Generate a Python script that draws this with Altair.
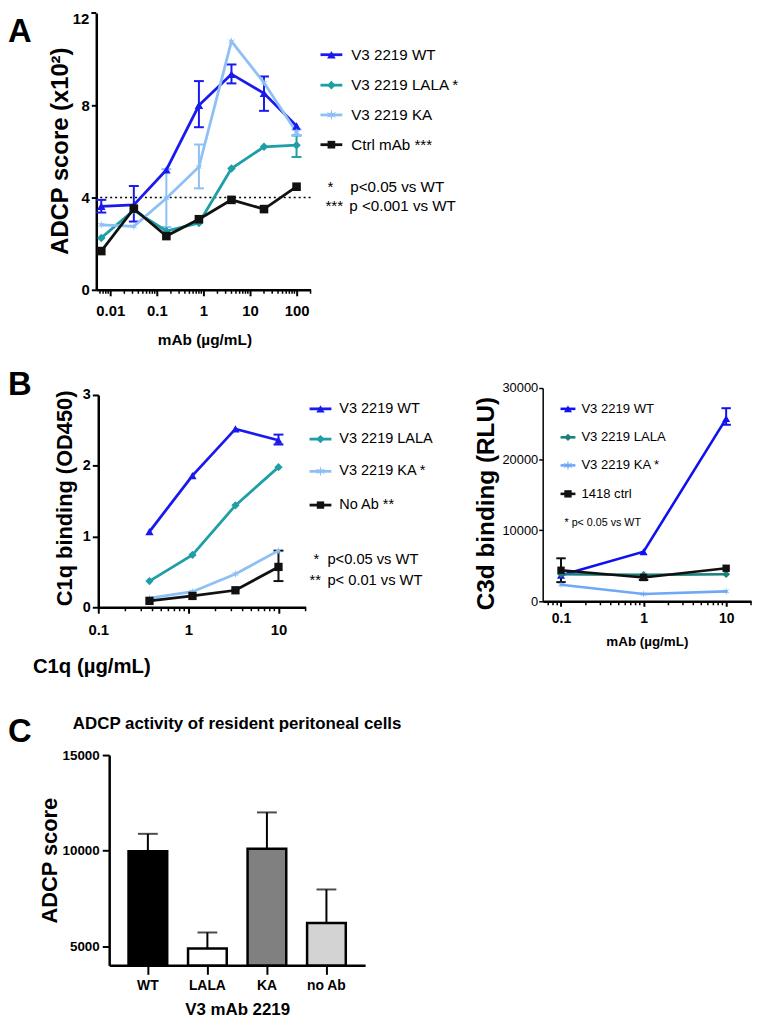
import math
import altair as alt
import pandas as pd

FONT = "Liberation Sans, Arial, sans-serif"

# ---------------- Panel A data ----------------
a_conc = [0.0064, 0.032, 0.16, 0.8, 4, 20, 100]
a_series = ["WT", "LALA", "KA", "Ctrl"]
a_labels = ["V3 2219 WT", "V3 2219 LALA *", "V3 2219 KA", "Ctrl mAb ***"]
a_wt = [3.62, 3.68, 5.2, 8.0, 9.35, 8.52, 7.1]
a_wt_lo = [3.35, 2.96, None, 7.05, 8.95, 7.76, None]
a_wt_hi = [3.9, 4.5, None, 9.05, 9.77, 9.25, None]
a_lala = [2.25, 3.45, 2.55, 2.9, 5.26, 6.2, 6.27]
a_lala_lo = [None, None, None, None, None, None, 5.76]
a_lala_hi = [None, None, None, None, None, None, 6.69]
a_ka = [2.82, 2.75, 3.97, 5.33, 10.77, 8.98, 6.83]
a_ka_lo = [None, None, 2.72, 4.4, None, None, 6.7]
a_ka_hi = [None, None, 5.23, 6.3, None, None, 6.95]
a_ctrl = [1.68, 3.52, 2.33, 3.06, 3.9, 3.5, 4.47]
a_ctrl_lo = [None] * 7
a_ctrl_hi = [None] * 7
a_threshold = [4.0]
a_xticks = [0.01, 0.1, 1, 10, 100]
a_yticks = [0, 4, 8]
a_ytop = [12]

# ---------------- Panel B (C1q) data ----------------
b1_conc = [0.37, 1.11, 3.33, 10]
b1_series = ["WT", "LALA", "KA", "NoAb"]
b1_labels = ["V3 2219 WT", "V3 2219 LALA", "V3 2219 KA *", "No Ab **"]
b1_wt = [1.07, 1.86, 2.52, 2.36]
b1_wt_lo = [None, None, None, 2.30]
b1_wt_hi = [None, None, None, 2.44]
b1_lala = [0.37, 0.74, 1.44, 1.98]
b1_ka = [0.13, 0.22, 0.47, 0.80]
b1_noab = [0.09, 0.16, 0.24, 0.57]
b1_noab_lo = [None, None, None, 0.37]
b1_noab_hi = [None, None, None, 0.80]
b1_none = [None] * 4
b1_xticks = [0.1, 1, 10]
b1_yticks = [0, 1, 2, 3]

# ---------------- Panel B (C3d) data ----------------
b2_conc = [0.1, 1, 10]
b2_series = ["WT", "LALA", "KA", "Ctrl"]
b2_labels = ["V3 2219 WT", "V3 2219 LALA", "V3 2219 KA *", "1418 ctrl"]
b2_wt = [3670, 6975, 25700]
b2_wt_lo = [None, None, 24830]
b2_wt_hi = [None, None, 27160]
b2_lala = [3810, 3720, 3810]
b2_ka = [2330, 1020, 1400]
b2_ctrl = [4370, 3350, 4650]
b2_ctrl_lo = [2700, 3000, None]
b2_ctrl_hi = [6050, 3650, None]
b2_none = [None] * 3
b2_xticks = [0.1, 1, 10]
b2_yticks = [0, 10000, 20000, 30000]

# ---------------- Panel C data ----------------
c_cats = ["WT", "LALA", "KA", "no Ab"]
c_vals = [9970, 4880, 10100, 6220]
c_err_hi = [10880, 5720, 12000, 7970]
c_fills = ["#000000", "#ffffff", "#808080", "#d3d3d3"]
c_yticks = [5000, 10000, 15000]


def long_df(conc, series, vals, los, his):
    rows, erows = [], []
    for s, v, lo, hi in zip(series, vals, los, his):
        for x, y, l, h in zip(conc, v, lo, hi):
            rows.append({"x": x, "series": s, "y": y})
            if l is not None and h is not None:
                erows.append({"x": x, "series": s, "lo": l, "hi": h})
    return pd.DataFrame(rows), pd.DataFrame(erows)


def minor_ticks(lo, hi):
    vals = []
    for e in range(-4, 4):
        for m in range(2, 10):
            v = m * 10 ** e
            if lo * 0.999 <= v <= hi * 1.001:
                vals.append(v)
    return pd.DataFrame({"x": vals})


def star_path(n=6, r_in=0.32):
    pts = []
    for i in range(2 * n):
        r = 1.0 if i % 2 == 0 else r_in
        ang = math.pi / 2 + i * math.pi / n
        pts.append((r * math.cos(ang), -r * math.sin(ang)))
    return "M" + "L".join(f"{x:.3f},{y:.3f}" for x, y in pts) + "Z"


STAR = star_path()
CAP = "M-1,0L1,0"
ONE = pd.DataFrame({"k": [0]})


def txt(s, x, y, fs, weight="normal", align="left", baseline="alphabetic"):
    return alt.Chart(ONE).mark_text(
        text=s, font=FONT, fontSize=fs, fontWeight=weight, align=align,
        baseline=baseline, color="black"
    ).encode(x=alt.value(x), y=alt.value(y))


def legend(labels, colors, shapes, sizes, x0, x1, xt, ys, fs, lw):
    out = []
    for lab, c, sh, sz, y in zip(labels, colors, shapes, sizes, ys):
        out.append(alt.Chart(ONE).mark_rule(color=c, strokeWidth=lw).encode(
            x=alt.value(x0), x2=alt.value(x1), y=alt.value(y)))
        out.append(alt.Chart(ONE).mark_point(shape=sh, filled=True, color=c, size=sz, opacity=1).encode(
            x=alt.value((x0 + x1) / 2), y=alt.value(y)))
        out.append(txt(lab, xt, y, fs, baseline="middle"))
    return out


def series_layers(df, edf, X, Y, series, colors, shapes, sizes, lw, cap_size, minor_df, tick_y):
    color = alt.Color("series:N", scale=alt.Scale(domain=series, range=colors), legend=None)
    shape = alt.Shape("series:N", scale=alt.Scale(domain=series, range=shapes), legend=None)
    size = alt.Size("series:N", scale=alt.Scale(domain=series, range=sizes), legend=None)
    return [
        alt.Chart(minor_df).mark_rule(color="black", strokeWidth=1.5).encode(
            x=X, y=alt.value(tick_y), y2=alt.value(tick_y + 4)),
        alt.Chart(edf).mark_rule(strokeWidth=2).encode(x=X, y=Y("lo"), y2="hi", color=color),
        alt.Chart(edf).mark_point(shape=CAP, filled=False, strokeWidth=2, size=cap_size, opacity=1).encode(
            x=X, y=Y("hi"), color=color),
        alt.Chart(edf).mark_point(shape=CAP, filled=False, strokeWidth=2, size=cap_size, opacity=1).encode(
            x=X, y=Y("lo"), color=color),
        alt.Chart(df).mark_line(strokeWidth=lw).encode(x=X, y=Y("y"), color=color),
        alt.Chart(df).mark_point(filled=True, opacity=1).encode(
            x=X, y=Y("y"), color=color, shape=shape, size=size),
    ]


def axis_common(**kw):
    base = dict(domainColor="black", domainWidth=2.5, tickColor="black", tickWidth=2,
                labelColor="black", grid=False, labelOverlap=False, labelFlush=False,
                labelFont=FONT, titleFont=FONT,
                titleColor="black", titleFontWeight="bold", titleBaseline="alphabetic",
                titleAlign="center")
    base.update(kw)
    return alt.Axis(**base)


# ================= Panel A =================
colA = ["#1a1aee", "#1f9ea6", "#8ec0f5", "#111111"]
shpA = ["triangle-up", "diamond", STAR, "square"]
sizA = [75, 75, 130, 60]
dfA, edfA = long_df(a_conc, a_series, [a_wt, a_lala, a_ka, a_ctrl],
                    [a_wt_lo, a_lala_lo, a_ka_lo, a_ctrl_lo], [a_wt_hi, a_lala_hi, a_ka_hi, a_ctrl_hi])
axA_x = axis_common(orient="bottom", values=a_xticks, format="~g", tickSize=6, labelFontSize=15,
                    labelFontWeight="bold", labelPadding=8, title="mAb  (µg/mL)",
                    titleFontSize=15.5, titleX=109, titleY=55)
axA_y = axis_common(orient="left", values=a_yticks, tickSize=5, labelFontSize=15, labelFontWeight="bold",
                    labelPadding=2, title="ADCP score (x10²)", titleFontSize=24, titleX=-29, titleY=138.7,
                    titleAngle=270)
XA = alt.X("x:Q", scale=alt.Scale(type="log", domain=[0.005, 200], nice=False), axis=axA_x)


def YA(f):
    return alt.Y(f"{f}:Q", scale=alt.Scale(domain=[0, 12], nice=False), axis=axA_y)


dfAtop = pd.DataFrame({"y": a_ytop})
layersA = [alt.Chart(pd.DataFrame({"y": a_threshold})).mark_rule(
    strokeDash=[2, 3], strokeWidth=1.5, color="black").encode(y=YA("y"))]
layersA += series_layers(dfA, edfA, XA, YA, a_series, colA, shpA, sizA, 2.8, 100,
                         minor_ticks(0.006, 200), 279)
# top tick and its label (kept inside the page)
layersA += [
    alt.Chart(dfAtop).mark_rule(color="black", strokeWidth=2).encode(
        y=YA("y"), x=alt.value(-5), x2=alt.value(0)),
    alt.Chart(dfAtop).mark_text(font=FONT, fontSize=15, fontWeight="bold", align="right",
                                baseline="top", color="black", dx=-7, dy=-1).encode(
        y=YA("y"), x=alt.value(0), text=alt.Text("y:Q", format="d")),
]
layersA += legend(a_labels, colA, shpA, sizA, 226, 248, 257, [42, 72.7, 102.7, 132.7], 15.3, 2.8)
layersA += [txt("*", 233, 180, 15.3), txt("p<0.05 vs WT", 256, 180, 15.3),
            txt("***", 231, 200, 15.3), txt("p <0.001 vs WT", 255, 200, 15.3),
            txt("A", -89, 29, 33, weight="bold")]
rowA = alt.layer(*layersA).properties(width=216, height=279)

# ================= Panel B left (C1q) =================
colB1 = ["#1a1aee", "#1f9ea6", "#8ec0f5", "#111111"]
shpB1 = ["triangle-up", "diamond", STAR, "square"]
sizB1 = [70, 70, 120, 55]
dfB1, edfB1 = long_df(b1_conc, b1_series, [b1_wt, b1_lala, b1_ka, b1_noab],
                      [b1_wt_lo, b1_none, b1_none, b1_noab_lo], [b1_wt_hi, b1_none, b1_none, b1_noab_hi])
axB1_x = axis_common(orient="bottom", values=b1_xticks, format="~g", tickSize=6, labelFontSize=15,
                     labelFontWeight="bold", labelPadding=9, title="C1q (µg/mL)",
                     titleFontSize=20.5, titleX=-5, titleY=66)
axB1_y = axis_common(orient="left", values=b1_yticks, tickSize=6, labelFontSize=14.5, labelFontWeight="bold",
                     labelPadding=2, offset=-2, title="C1q binding (OD450)", titleFontSize=22,
                     titleX=-27, titleY=110.7, titleAngle=270)
XB1 = alt.X("x:Q", scale=alt.Scale(type="log", domain=[0.1, 20], nice=False, range=[2, 211]), axis=axB1_x)


def YB1(f):
    return alt.Y(f"{f}:Q", scale=alt.Scale(domain=[0, 3], nice=False, range=[221, 7]), axis=axB1_y)


layersB1 = series_layers(dfB1, edfB1, XB1, YB1, b1_series, colB1, shpB1, sizB1, 2.8, 100,
                         minor_ticks(0.2, 20), 221)
layersB1 += legend(b1_labels, colB1, shpB1, sizB1, 215, 237, 245, [21, 51.5, 84, 118], 14.6, 2.8)
layersB1 += [txt("*", 219, 177, 14.8), txt("p<0.05 vs WT", 233, 177, 14.8),
             txt("**", 215, 199, 14.8), txt("p< 0.01 vs WT", 233, 199, 14.8),
             txt("B", -89, 7, 33, weight="bold")]

# ================= Panel B right (C3d) =================
colB2 = ["#1010f0", "#1b7f7a", "#6fa8f5", "#111111"]
shpB2 = ["triangle-up", "diamond", STAR, "square"]
sizB2 = [65, 55, 110, 55]
dfB2, edfB2 = long_df(b2_conc, b2_series, [b2_wt, b2_lala, b2_ka, b2_ctrl],
                      [b2_wt_lo, b2_none, b2_none, b2_ctrl_lo], [b2_wt_hi, b2_none, b2_none, b2_ctrl_hi])
axB2_x = axis_common(orient="bottom", values=b2_xticks, format="~g", tickSize=5, labelFontSize=14,
                     labelFontWeight="bold", labelPadding=5, offset=-6, title="mAb (µg/mL)",
                     titleFontSize=13.5, titleX=555, titleY=45)
axB2_y = axis_common(orient="left", values=b2_yticks, format="d", tickSize=4, labelFontSize=13,
                     labelFontWeight="normal", labelPadding=1, domainWidth=1.5, tickWidth=1.5, offset=-450,
                     title="C3d binding (RLU)", titleFontSize=24.5, titleX=-50, titleY=116,
                     titleAngle=270)
XB2 = alt.X("x:Q", scale=alt.Scale(type="log", domain=[0.06, 20], nice=False, range=[450, 660]), axis=axB2_x)


def YB2(f):
    return alt.Y(f"{f}:Q", scale=alt.Scale(domain=[0, 30000], nice=False, range=[215, 0]), axis=axB2_y)


layersB2 = series_layers(dfB2, edfB2, XB2, YB2, b2_series, colB2, shpB2, sizB2, 2.6, 90,
                         minor_ticks(0.07, 20), 215)
layersB2 += legend(b2_labels, colB2, shpB2, sizB2, 468, 483, 489, [21, 49.7, 78, 106.7], 13.2, 2.6)
layersB2 += [txt("* p< 0.05 vs WT", 472, 139, 10.8)]

rowB = alt.layer(alt.layer(*layersB1), alt.layer(*layersB2)).resolve_scale(
    x="independent", y="independent", color="independent", shape="independent", size="independent"
).properties(width=660, height=221)

# ================= Panel C =================
dfC = pd.DataFrame({"cat": c_cats, "v": c_vals, "hi": c_err_hi})
axC_x = axis_common(orient="bottom", tickSize=9, labelAngle=0, labelFontSize=14, labelFontWeight="bold",
                    labelPadding=4, title="V3 mAb 2219", titleFontSize=17,
                    titleX=142, titleY=50)
axC_y = axis_common(orient="left", values=c_yticks, format="d", tickSize=7, labelFontSize=13.5,
                    labelFontWeight="bold", labelPadding=3, offset=-13, title="ADCP score",
                    titleFontSize=22, titleX=-53, titleY=156, titleAngle=270)
XC = alt.X("cat:N", sort=c_cats, scale=alt.Scale(range=[13, 271], paddingInner=0.35, paddingOuter=0.325),
           axis=axC_x)


def YC(f):
    return alt.Y(f"{f}:Q", scale=alt.Scale(domain=[4000, 15000], nice=False, zero=False, range=[262, 50]),
                 axis=axC_y)


layersC = [
    alt.Chart(dfC).mark_rule(color="black", strokeWidth=2).encode(x=XC, y=YC("v"), y2="hi"),
    alt.Chart(dfC).mark_tick(color="black", thickness=2, size=20, orient="horizontal").encode(x=XC, y=YC("hi")),
    alt.Chart(dfC).mark_bar(stroke="black", strokeWidth=2.5).encode(
        x=XC, y=YC("v"), y2=alt.datum(4000),
        fill=alt.Fill("cat:N", scale=alt.Scale(domain=c_cats, range=c_fills), legend=None)),
    txt("ADCP activity of resident peritoneal cells", 142, 24, 17, weight="bold", align="center"),
    txt("C", -89, 37, 33, weight="bold"),
]
rowC = alt.layer(*layersC).properties(width=271, height=262)

chart = alt.vconcat(rowA, rowB, rowC, spacing=99, bounds="flush").properties(
    padding=0, background="white"
).configure_view(stroke=None)

chart.save("out.html", embed_options={"renderer": "svg", "actions": False})
